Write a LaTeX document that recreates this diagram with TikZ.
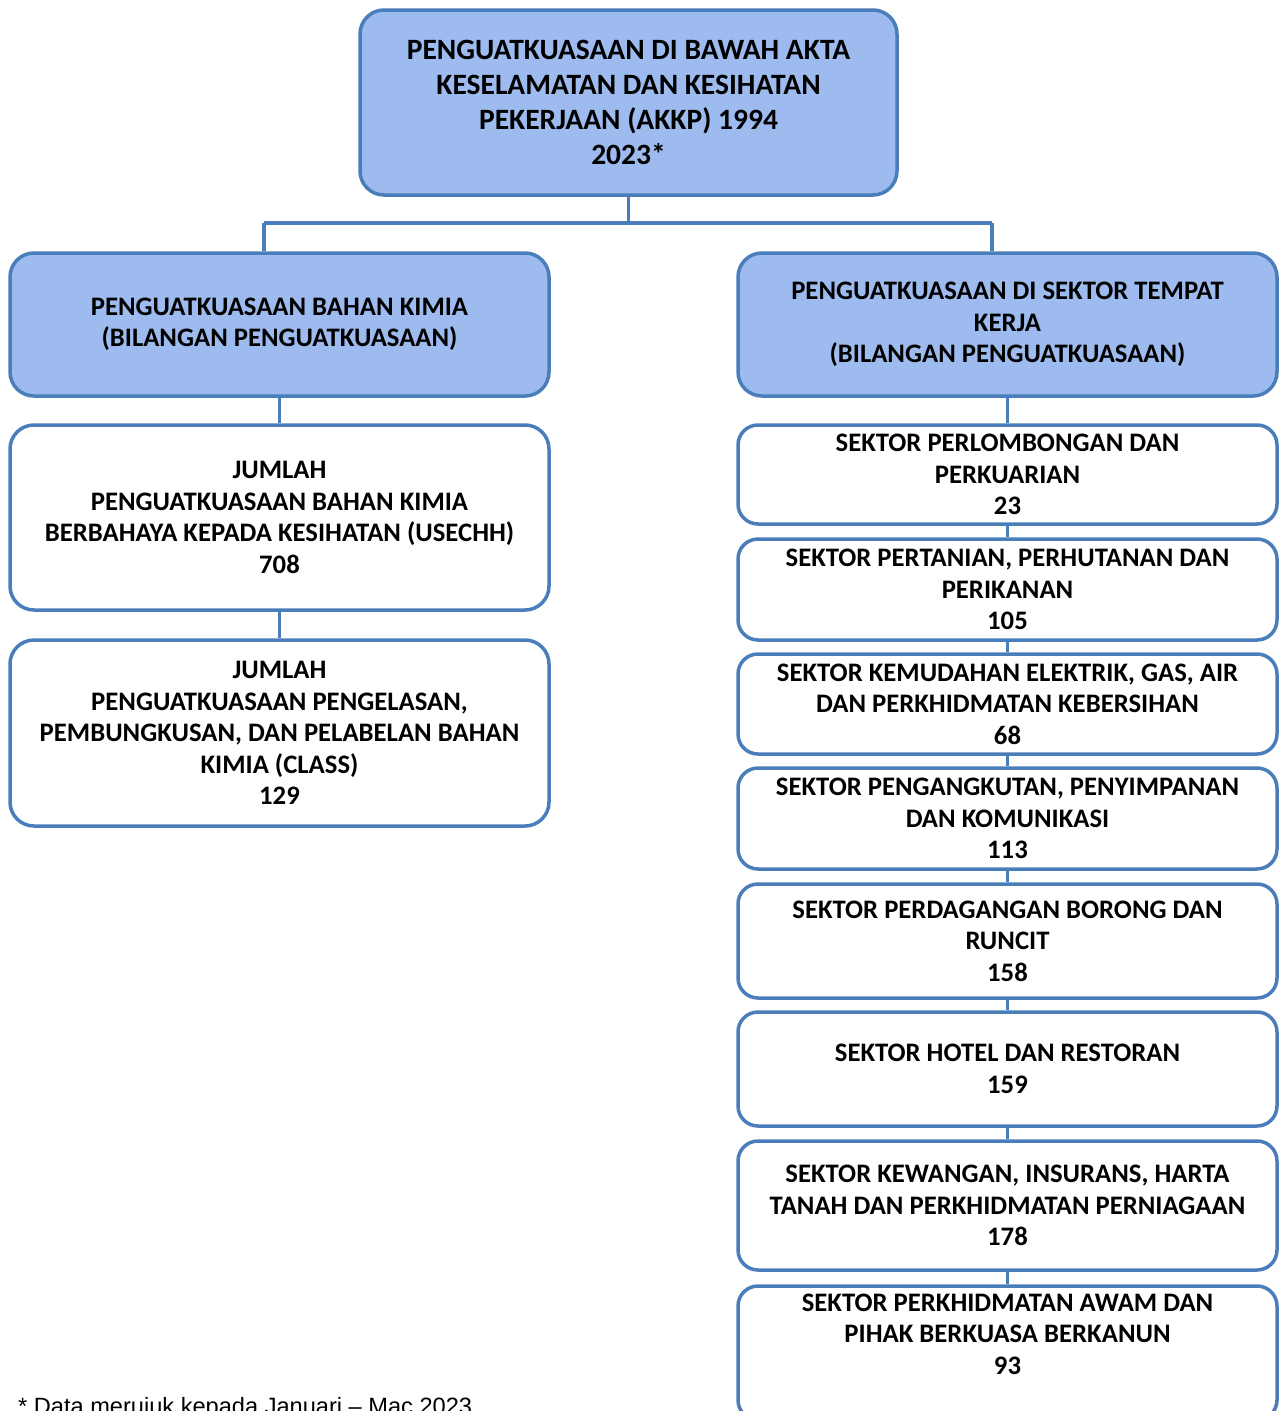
\documentclass[tikz,border=0pt]{standalone}
\usepackage{fontspec}
\setmainfont{Carlito}
\newfontfamily\footfont{Liberation Sans}
\definecolor{bordc}{RGB}{74,126,187}
\definecolor{fillc}{RGB}{157,187,238}
\begin{document}
\begin{tikzpicture}[x=1pt,y=-1pt,
  box/.style={draw=bordc, line width=3.5pt, rounded corners=24pt, align=center,
    font=\fontsize{26.7}{31.5}\selectfont\bfseries, inner sep=0pt},
  hdr/.style={box, fill=fillc},
  wbox/.style={box, fill=white, rounded corners=20pt},
  conn/.style={draw=bordc, line width=3.5pt},
  txt/.style={align=center, font=\fontsize{26.7}{31.5}\selectfont\bfseries, inner sep=0pt}]
\useasboundingbox (0,0) rectangle (1280,1411);
\fill[white] (0,0) rectangle (1280,1411);

% top
\node[hdr, minimum width=537pt, minimum height=185pt, font=\fontsize{29.5}{35}\selectfont\bfseries] (top) at (628.5,102.5)
  {PENGUATKUASAAN DI BAWAH AKTA\\KESELAMATAN DAN KESIHATAN\\PEKERJAAN (AKKP) 1994\\2023*};

% headers
\node[hdr, minimum width=539pt, minimum height=143pt] (lh) at (279.5,324.5)
  {PENGUATKUASAAN BAHAN KIMIA\\(BILANGAN PENGUATKUASAAN)};
\node[hdr, minimum width=539pt, minimum height=143pt] (rh) at (1007.5,324.5)
  {PENGUATKUASAAN DI SEKTOR TEMPAT\\KERJA\\(BILANGAN PENGUATKUASAAN)};

% left column
\node[wbox, rounded corners=24pt, minimum width=539pt, minimum height=185pt] (l1) at (279.5,517.5)
  {JUMLAH\\PENGUATKUASAAN BAHAN KIMIA\\BERBAHAYA KEPADA KESIHATAN (USECHH)\\708};
\node[wbox, rounded corners=24pt, minimum width=539pt, minimum height=186pt] (l2) at (279.5,733)
  {JUMLAH\\PENGUATKUASAAN PENGELASAN,\\PEMBUNGKUSAN, DAN PELABELAN BAHAN\\KIMIA (CLASS)\\129};

% right column
\node[wbox, minimum width=539pt, minimum height=99pt] (r1) at (1007.5,474.5)
  {SEKTOR PERLOMBONGAN DAN\\PERKUARIAN\\23};
\node[wbox, minimum width=539pt, minimum height=101pt] (r2) at (1007.5,589.5)
  {SEKTOR PERTANIAN, PERHUTANAN DAN\\PERIKANAN\\105};
\node[wbox, minimum width=539pt, minimum height=100pt] (r3) at (1007.5,704)
  {SEKTOR KEMUDAHAN ELEKTRIK, GAS, AIR\\DAN PERKHIDMATAN KEBERSIHAN\\68};
\node[wbox, minimum width=539pt, minimum height=101pt] (r4) at (1007.5,818.5)
  {SEKTOR PENGANGKUTAN, PENYIMPANAN\\DAN KOMUNIKASI\\113};
\node[wbox, minimum width=539pt, minimum height=114pt] (r5) at (1007.5,941)
  {SEKTOR PERDAGANGAN BORONG DAN\\RUNCIT\\158};
\node[wbox, minimum width=539pt, minimum height=114pt] (r6) at (1007.5,1069)
  {SEKTOR HOTEL DAN RESTORAN\\159};
\node[wbox, minimum width=539pt, minimum height=129pt] (r7) at (1007.5,1205.5)
  {SEKTOR KEWANGAN, INSURANS, HARTA\\TANAH DAN PERKHIDMATAN PERNIAGAAN\\178};
\node[wbox, minimum width=539pt, minimum height=134pt] (r8) at (1007.5,1353) {};
\node[txt] (r8t) at (1007.5,1334)
  {SEKTOR PERKHIDMATAN AWAM DAN\\PIHAK BERKUASA BERKANUN\\93};

% connectors
\coordinate (jl) at (264,223);
\coordinate (jr) at (992,223);
\draw[conn] (top.south) -- (top.south |- jl);
\draw[conn] (jl) -- (jr);
\draw[conn] (jl) -- (jl |- lh.north);
\draw[conn] (jr) -- (jr |- rh.north);
\draw[conn] (lh.south) -- (l1.north);
\draw[conn] (l1.south) -- (l2.north);
\draw[conn] (rh.south) -- (r1.north);
\draw[conn] (r1.south) -- (r2.north);
\draw[conn] (r2.south) -- (r3.north);
\draw[conn] (r3.south) -- (r4.north);
\draw[conn] (r4.south) -- (r5.north);
\draw[conn] (r5.south) -- (r6.north);
\draw[conn] (r6.south) -- (r7.north);
\draw[conn] (r7.south) -- (r8.north);

% footnote
\node[anchor=base west, inner sep=0pt, font=\footfont\fontsize{23.6}{28}\selectfont] (foot) at (18,1414)
  {* Data merujuk kepada Januari – Mac 2023};
\end{tikzpicture}
\end{document}
